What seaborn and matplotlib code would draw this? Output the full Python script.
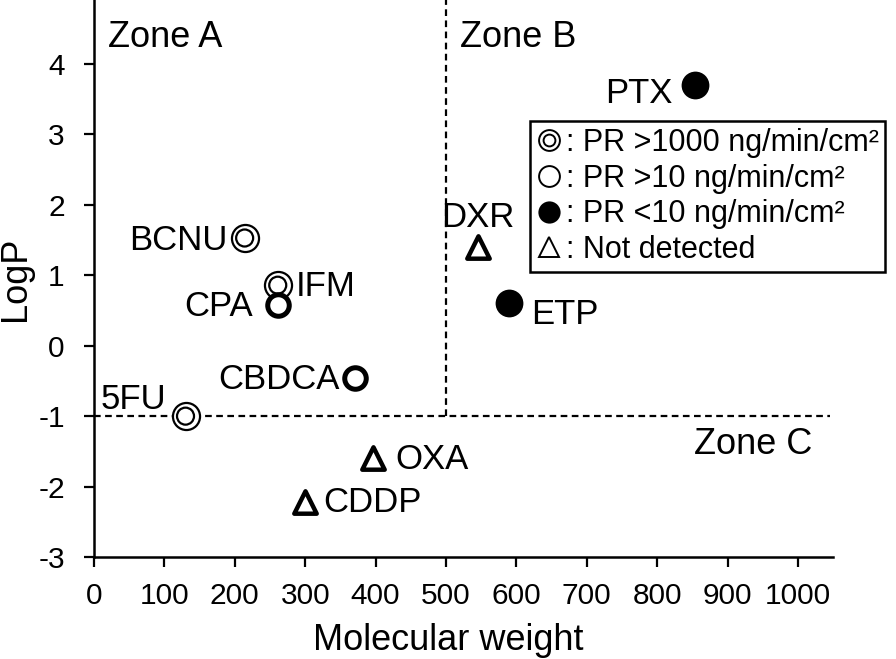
import matplotlib
matplotlib.use("Agg")
import matplotlib.pyplot as plt
from matplotlib.lines import Line2D
from matplotlib.legend_handler import HandlerTuple
import seaborn as sns
import pandas as pd

# ---- data ----
drugs = ["PTX", "DXR", "ETP", "BCNU", "IFM", "CPA", "CBDCA", "5FU", "OXA", "CDDP"]
mol_weight = [854, 545, 589, 214, 261, 261, 371, 130, 397, 300]
logp = [3.70, 1.40, 0.60, 1.53, 0.86, 0.58, -0.46, -1.00, -1.60, -2.22]
group = ["low", "nd", "low", "high", "high", "mid", "mid", "high", "nd", "nd"]
# label offsets (points) and alignment
label_dx = [-16, 0, 16, -12, 13, -18, -11, -14, 16, 13]
label_dy = [-6, 21, -8, -2, -1, -1, -1, 12, -1, 0]
label_ha = ["right", "center", "left", "right", "left", "right", "right", "right", "left", "left"]

legend_labels = [": PR >1000 ng/min/cm²", ": PR >10 ng/min/cm²",
                 ": PR <10 ng/min/cm²", ": Not detected"]
zones = ["Zone A", "Zone B", "Zone C"]
zone_x = [20, 520, 852]
zone_y = [4.38, 4.38, -1.40]
mw_cut = 500
logp_cut = -1

df = pd.DataFrame({"drug": drugs, "mw": mol_weight, "logp": logp, "group": group})

sns.set_style("ticks")
plt.rcParams["font.family"] = ["Liberation Sans", "DejaVu Sans"]
plt.rcParams["axes.unicode_minus"] = False
plt.rcParams["text.color"] = "black"
plt.rcParams["axes.labelcolor"] = "black"
plt.rcParams["xtick.color"] = "black"
plt.rcParams["ytick.color"] = "black"

fig = plt.figure(figsize=(8.96, 6.59), dpi=100)
ax = fig.add_axes([0.1049, 0.1548, 0.825, 0.8452])

# dashed zone lines
ax.plot([mw_cut, mw_cut], [logp_cut, 5], ls=(0, (3, 2)), color="black", lw=1.6, zorder=1)
ax.plot([0, 1045], [logp_cut, logp_cut], ls=(0, (3, 2)), color="black", lw=1.6, zorder=1)

# markers
hi = df[df.group == "high"]
sns.scatterplot(data=hi, x="mw", y="logp", ax=ax, marker="o", s=380,
                facecolor="white", edgecolor="black", linewidth=1.6, zorder=3, legend=False)
sns.scatterplot(data=hi, x="mw", y="logp", ax=ax, marker="o", s=150,
                facecolor="none", edgecolor="black", linewidth=1.6, zorder=4, legend=False)
mid = df[df.group == "mid"]
sns.scatterplot(data=mid, x="mw", y="logp", ax=ax, marker="o", s=240,
                facecolor="white", edgecolor="black", linewidth=3.6, zorder=3, legend=False)
low = df[df.group == "low"]
sns.scatterplot(data=low, x="mw", y="logp", ax=ax, marker="o", s=400,
                color="black", linewidth=0, zorder=3, legend=False)
nd = df[df.group == "nd"]
sns.scatterplot(data=nd, x="mw", y="logp", ax=ax, marker="^", s=260,
                facecolor="white", edgecolor="black", linewidth=3.2, zorder=3, legend=False)

for d, x, y, dx, dy, ha in zip(drugs, mol_weight, logp, label_dx, label_dy, label_ha):
    ax.annotate(d, (x, y), xytext=(dx, dy), textcoords="offset points",
                ha=ha, va="center", fontsize=25)

for z, zx, zy in zip(zones, zone_x, zone_y):
    ax.text(zx, zy, z, fontsize=26, ha="left", va="center")

ax.set_xlim(0, 1050)
ax.set_ylim(-3, 4.91)
ax.set_xticks(range(0, 1001, 100))
ax.set_yticks(range(-3, 5))
ax.set_xlabel("Molecular weight", fontsize=26)
ax.set_ylabel("LogP", fontsize=26)
ax.tick_params(labelsize=21.5, width=1.6, length=7)
ax.tick_params(axis="y", pad=14)
ax.tick_params(axis="x", pad=11)
ax.xaxis.set_label_coords(0.479, -0.118)
ax.yaxis.set_label_coords(-0.082, 0.5)
for s in ["top", "right"]:
    ax.spines[s].set_visible(False)
for s in ["left", "bottom"]:
    ax.spines[s].set_linewidth(1.8)
    ax.spines[s].set_color("black")

# legend
h_hi = (Line2D([], [], marker="o", ls="", ms=15, mfc="white", mec="black", mew=1.4),
        Line2D([], [], marker="o", ls="", ms=8.5, mfc="none", mec="black", mew=1.4))
h_mid = Line2D([], [], marker="o", ls="", ms=15, mfc="white", mec="black", mew=1.4)
h_low = Line2D([], [], marker="o", ls="", ms=16, mfc="black", mec="black", mew=0)
h_nd = Line2D([], [], marker="^", ls="", ms=14, mfc="white", mec="black", mew=1.4)
leg = fig.legend([h_hi, h_mid, h_low, h_nd], legend_labels,
                 handler_map={tuple: HandlerTuple(ndivide=1, pad=0)},
                 loc="upper left", bbox_to_anchor=(530 / 896, 1 - 121 / 659),
                 fontsize=22, frameon=True, fancybox=False, framealpha=1,
                 edgecolor="black", handlelength=0.8, handletextpad=0.15,
                 borderpad=0.22, labelspacing=0.19, borderaxespad=0)
leg.get_frame().set_linewidth(1.8)

fig.savefig("out.png", dpi=100)
